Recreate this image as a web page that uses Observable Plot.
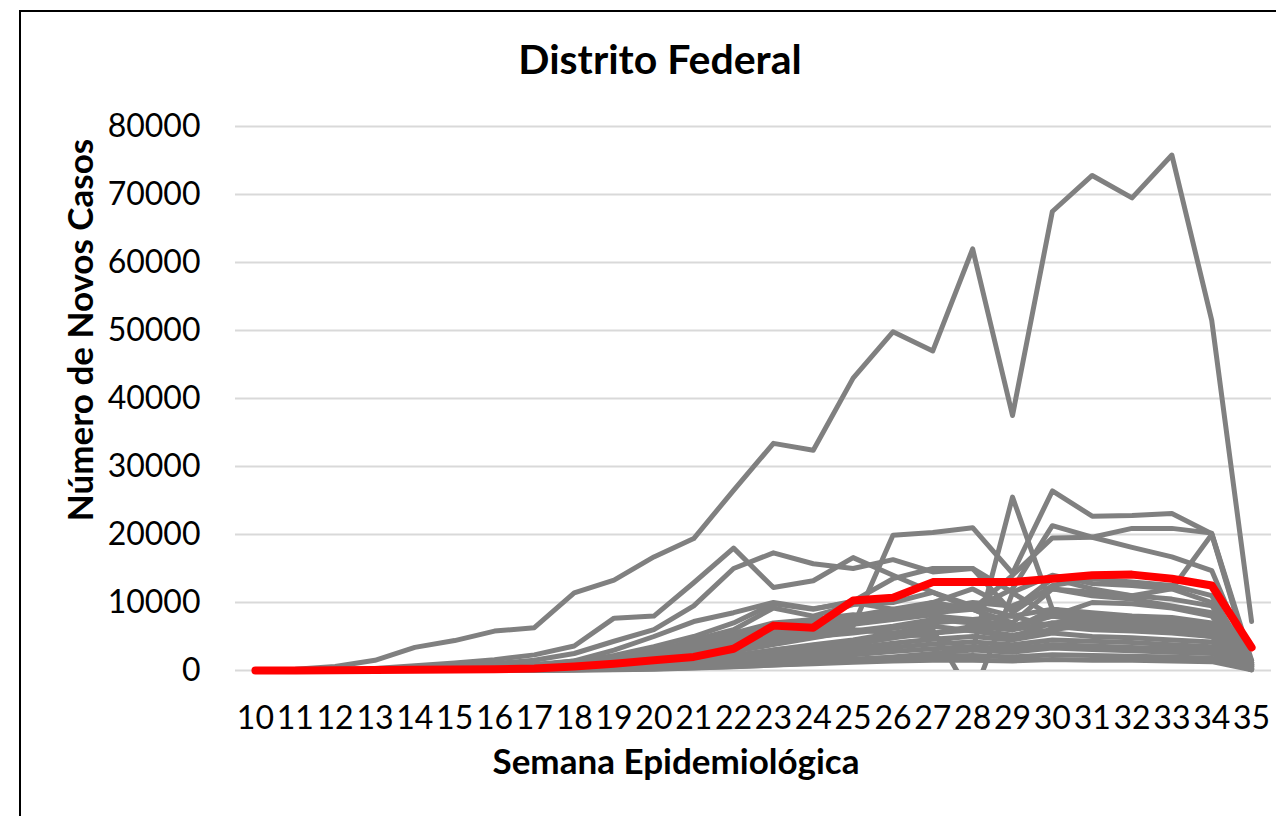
<!DOCTYPE html>
<html>
<head>
<meta charset="utf-8">
<script src="https://cdn.jsdelivr.net/npm/d3@7"></script>
<script src="https://cdn.jsdelivr.net/npm/@observablehq/plot@0.6"></script>
<style>
  html, body { margin: 0; padding: 0; background: #fff; overflow: hidden; }
  #page { position: relative; width: 1276px; height: 816px; overflow: hidden; font-family: Lato, "Open Sans", sans-serif; }
  #frame { position: absolute; left: 19px; top: 10px; width: 1320px; height: 900px; border: 2px solid #000; box-sizing: border-box; }
  #chart { position: absolute; left: 0; top: 0; }
  #title { position: absolute; left: 0; width: 1320px; top: 34px; text-align: center; font-weight: 700; font-size: 41px; color: #000; }
  #ylabel { position: absolute; left: 79px; top: 330px; transform: translate(-50%, -50%) rotate(-90deg); white-space: nowrap; font-weight: 700; font-size: 35px; color: #000; }
  #xlabel { position: absolute; left: 676px; top: 739px; transform: translateX(-50%); white-space: nowrap; font-weight: 700; font-size: 35px; color: #000; }
</style>
</head>
<body>
<div id="page">
  <div id="frame"></div>
  <div id="chart"></div>
  <div id="title">Distrito Federal</div>
  <div id="ylabel">Número de Novos Casos</div>
  <div id="xlabel">Semana Epidemiológica</div>
</div>
<script>
// Semanas epidemiológicas (eixo x)
const weeks = [10,11,12,13,14,15,16,17,18,19,20,21,22,23,24,25,26,27,28,29,30,31,32,33,34,35];
// Marcas do eixo y
const yTicks = [0,10000,20000,30000,40000,50000,60000,70000,80000];

// Distrito Federal (linha vermelha)
const distritoFederal = [0,10,30,60,100,150,200,300,600,1000,1500,2000,3200,6600,6300,10300,10700,13000,13000,13000,13500,14000,14100,13500,12500,3400];

// Demais unidades federativas (linhas cinzas)
const uf01 = [0,200,600,1500,3400,4400,5800,6300,11400,13300,16700,19400,26500,33400,32400,43000,49800,47000,62000,37500,67500,72800,69500,75800,51500,7200];
const uf02 = [0,20,100,300,700,1100,1600,2300,3600,7700,8000,12900,18000,12200,13200,16600,14000,11500,9500,8000,9000,8500,8000,7800,7000,1200];
const uf03 = [0,10,50,150,400,700,1000,1500,2500,4300,6000,9500,15000,17300,15700,15000,16300,14500,15000,11500,14000,12800,12500,12000,10000,1500];
const uf04 = [0,10,30,80,200,400,600,900,1400,2000,3000,4200,5200,6000,6300,6500,19900,20300,21000,14300,26400,22700,22800,23100,20100,1000];
const uf05 = [0,5,20,60,150,300,500,800,1200,1800,2500,3200,4000,4800,5500,6000,5500,5000,3000,25500,9000,8000,7500,7000,6500,800];
const uf06 = [0,5,20,60,150,300,500,800,1300,2000,2800,3800,5000,6200,7000,8000,9000,10000,9000,12000,21300,19600,18100,16700,14700,800];
const uf07 = [0,5,15,50,120,250,400,650,1000,1600,2400,3400,4500,5800,6800,7800,8500,9500,9000,14000,19500,19600,20900,20900,20200,1500];
const uf08 = [0,5,15,50,120,250,400,650,1000,1600,2400,3400,4500,5500,6500,7500,8000,9000,10000,9500,12000,11500,11000,12000,20000,600];
const uf09 = [0,0,10,40,120,250,450,700,1200,2200,3500,5000,7000,9800,9000,10200,13500,15000,15000,8500,12500,13500,13000,12500,11000,1200];
const uf10 = [0,0,5,30,90,200,400,700,1400,3000,5000,7200,8500,10000,9100,10000,9000,8000,7500,6500,8000,7500,7000,6800,6500,800];
const uf11 = [0,0,10,40,100,200,350,500,800,1500,2600,4500,6000,9200,8000,9700,10000,11500,9000,7000,12000,11000,10500,9500,8500,1000];
const uf12 = [0,0,5,20,60,120,250,400,700,1200,2000,3500,5500,7000,7500,8200,7800,8500,9000,6500,8000,10000,9800,9200,8000,900];
const uf13 = [0,0,5,15,40,90,160,300,500,900,1600,2600,4000,5200,6000,7000,8500,10000,12000,9000,13500,12000,11000,10500,9500,1200];
const uf14 = [0,0,0,10,30,70,120,200,350,600,1000,1800,2800,3800,4800,5800,6500,7500,7000,6000,8500,7500,7000,6800,6000,600];
const uf15 = [0,0,0,5,20,50,90,150,280,500,800,1300,2000,3000,3800,4500,5500,6500,5800,5000,7000,6500,6200,5800,5000,500];
const uf16 = [0,0,0,5,15,40,80,140,250,450,700,1100,1700,2500,3200,4000,4800,5500,6000,5200,6000,6800,7200,6500,6000,400];
const uf17 = [0,0,0,5,15,30,60,110,200,380,650,1000,1500,2200,3000,3800,4800,6000,-4000,11400,8000,7000,6500,6000,5500,300];
const uf18 = [0,0,0,3,10,25,50,90,170,320,550,900,1400,2000,2600,3300,4000,4600,5000,4500,5500,5000,4800,4500,4200,300];
const uf19 = [0,0,0,2,8,20,40,80,150,280,480,800,1200,1700,2200,2800,3400,3900,4200,3800,4500,4300,4100,3800,3500,200];
const uf20 = [0,0,0,2,6,15,30,60,120,220,400,650,1000,1400,1800,2300,2800,3200,3500,3200,3800,3600,3400,3200,3000,200];
const uf21 = [0,0,0,1,5,12,25,50,100,180,320,520,800,1100,1400,1700,1900,2100,2200,2000,2300,2200,2100,2000,1800,150];
const uf22 = [0,0,0,1,4,10,20,40,80,150,260,400,600,800,1000,1200,1400,1500,1500,1400,1600,1500,1500,1400,1300,100];
const uf23 = [0,0,0,2,10,30,70,150,300,600,1000,1500,2200,3000,3600,4200,5000,5400,6500,6000,7000,7500,6800,6200,5600,700];
const uf24 = [0,0,0,3,12,35,80,170,350,700,1300,2200,3200,4300,5000,5500,6200,7000,7500,8000,6500,6000,5800,5500,5000,600];
const uf25 = [0,0,2,10,30,80,160,300,550,1000,1700,2800,3800,4800,5200,6800,7500,8200,7000,6000,9000,8000,7600,7200,6800,900];
const uf26 = [0,0,0,1,3,8,15,30,60,110,200,350,550,800,1100,1500,2000,2500,3000,2700,3300,3100,2900,2700,2500,100];

const grayList = [uf01,uf02,uf03,uf04,uf05,uf06,uf07,uf08,uf09,uf10,uf11,uf12,uf13,uf14,uf15,uf16,uf17,uf18,uf19,uf20,uf21,uf22,uf23,uf24,uf25,uf26];

const toRows = (arr, name) => arr.map((v, i) => ({week: weeks[i], value: v, serie: name}));
const grayPos = [], grayNeg = [];
grayList.forEach((arr, k) => {
  const rows = toRows(arr, "uf" + k);
  (d3.min(arr) < 0 ? grayNeg : grayPos).push(...rows);
});
const redRows = toRows(distritoFederal, "DF");

const chart = Plot.plot({
  width: 1276,
  height: 816,
  marginLeft: 235,
  marginRight: 5,
  marginTop: 126,
  marginBottom: 146,
  style: {fontFamily: "Lato, 'Open Sans', sans-serif", fontSize: "32px", color: "#000", background: "transparent", overflow: "visible"},
  x: {type: "linear", domain: [9.5, 35.5]},
  y: {domain: [0, 80000]},
  marks: [
    Plot.gridY(yTicks, {stroke: "#d9d9d9", strokeOpacity: 1, strokeWidth: 2}),
    Plot.axisY(yTicks, {tickSize: 0, tickPadding: 35, label: null, tickFormat: d => String(d), fill: "#000"}),
    Plot.axisX(weeks, {tickSize: 0, tickPadding: 36, label: null, tickFormat: d => String(d), fill: "#000"}),
    Plot.line(grayPos, {x: "week", y: "value", z: "serie", stroke: "#808080", strokeWidth: 5, strokeLinejoin: "round", strokeLinecap: "round"}),
    Plot.line(grayNeg, {x: "week", y: "value", z: "serie", stroke: "#808080", strokeWidth: 5, strokeLinejoin: "round", clip: true}),
    Plot.line(redRows, {x: "week", y: "value", stroke: "#ff0000", strokeWidth: 8, strokeLinejoin: "round", strokeLinecap: "round"})
  ]
});
document.getElementById("chart").appendChild(chart);
</script>
</body>
</html>
